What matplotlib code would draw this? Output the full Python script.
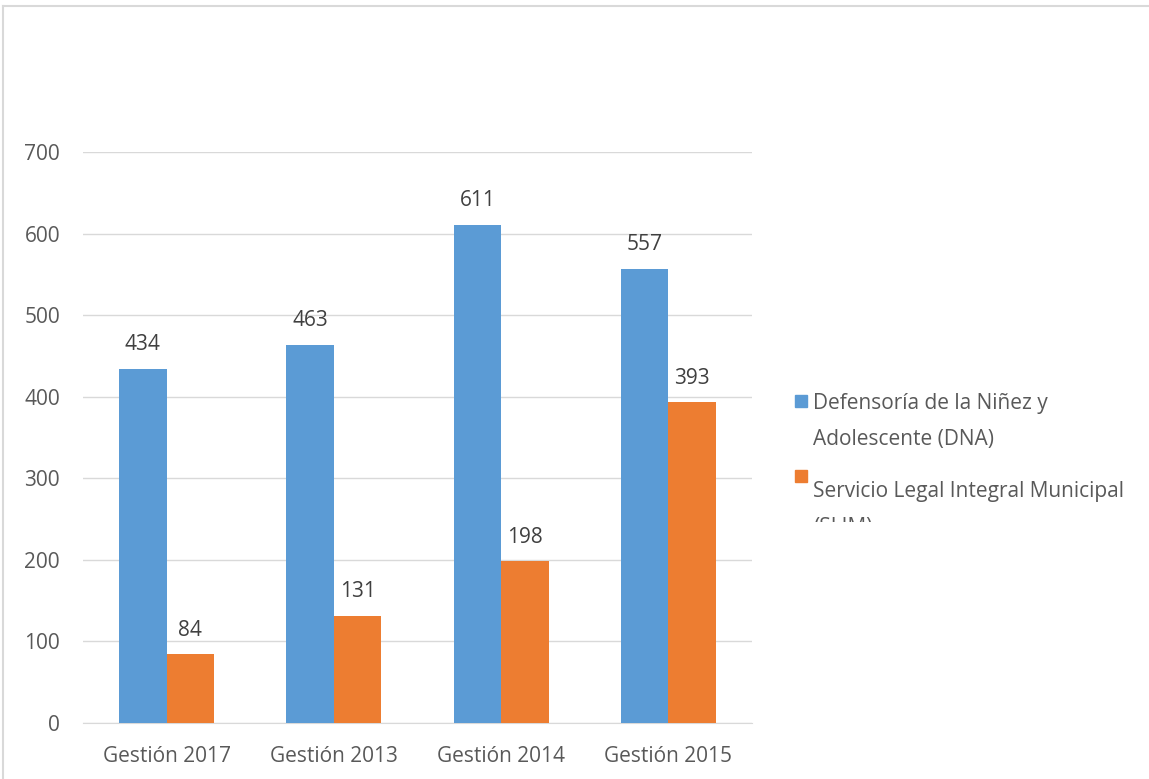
import matplotlib
matplotlib.use("Agg")
import matplotlib.pyplot as plt
import numpy as np
from matplotlib.lines import Line2D
from matplotlib.patches import Rectangle
from matplotlib.transforms import Bbox

categories = ["Gestión 2017", "Gestión 2013", "Gestión 2014", "Gestión 2015"]
dna = [434, 463, 611, 557]
slim = [84, 131, 198, 393]
series_names = ["Defensoría de la Niñez y\nAdolescente (DNA)",
                "Servicio Legal Integral Municipal\n(SLIM)"]
yticks = [0, 100, 200, 300, 400, 500, 600, 700]

blue = "#5b9bd5"
orange = "#ed7d31"
txt = "#595959"
font = "Open Sans"
fs = 15
plt.rcParams['font.family'] = [font, 'DejaVu Sans']

W, H = 1149, 779
fig = plt.figure(figsize=(W / 100, H / 100), dpi=100)
ax = fig.add_axes([83 / W, 1 - 723 / H, (752 - 83) / W, (723 - 152) / H])

x = np.arange(len(categories))
bw = 0.284
b1 = ax.bar(x - bw / 2, dna, bw, color=blue, zorder=3)
b2 = ax.bar(x + bw / 2, slim, bw, color=orange, zorder=3)
for bars in (b1, b2):
    for r in bars:
        ax.annotate(f"{int(r.get_height())}", (r.get_x() + r.get_width() / 2, r.get_height()),
                    xytext=(0, 10), textcoords="offset points", ha="center", va="bottom",
                    fontsize=fs, color="#404040")

ax.set_xlim(-0.5, len(categories) - 0.5)
ax.set_ylim(0, 700)
ax.set_yticks(yticks)
ax.set_xticks(x)
ax.set_xticklabels(categories)
ax.yaxis.grid(True, color="#d9d9d9", linewidth=1, zorder=0)
for s in ["top", "right", "left"]:
    ax.spines[s].set_visible(False)
ax.spines["bottom"].set_color("#d9d9d9")
ax.tick_params(axis="both", length=0, labelsize=fs, colors=txt)
ax.tick_params(axis="y", pad=16.5)
ax.tick_params(axis="x", pad=16.5)

# legend (manual, with clipped last line as in reference)
fig.patches.append(Rectangle((795 / W, 1 - 407 / H), 12 / W, 12 / H, color=blue,
                             transform=fig.transFigure, figure=fig))
fig.patches.append(Rectangle((795 / W, 1 - 482 / H), 12 / W, 12 / H, color=orange,
                             transform=fig.transFigure, figure=fig))
l1 = series_names[0].split("\n")
l2 = series_names[1].split("\n")
fig.text(813 / W, 1 - 404 / H, l1[0], fontsize=fs, color=txt, va="center")
fig.text(813 / W, 1 - 440 / H, l1[1], fontsize=fs, color=txt, va="center")
fig.text(813 / W, 1 - 491 / H, l2[0], fontsize=fs, color=txt, va="center")
t = fig.text(813 / W, 1 - 527 / H, l2[1], fontsize=fs, color=txt, va="center")
t.set_clip_on(True)
t.set_clip_box(Bbox.from_extents(780, H - 522, 1149, H - 500))

# outer border
fig.add_artist(Line2D([3 / W, 1], [1 - 6 / H, 1 - 6 / H], color="#d9d9d9", lw=1.5,
                      transform=fig.transFigure))
fig.add_artist(Line2D([3 / W, 3 / W], [0, 1 - 6 / H], color="#d9d9d9", lw=1.5,
                      transform=fig.transFigure))

fig.savefig("out.png", dpi=100)
